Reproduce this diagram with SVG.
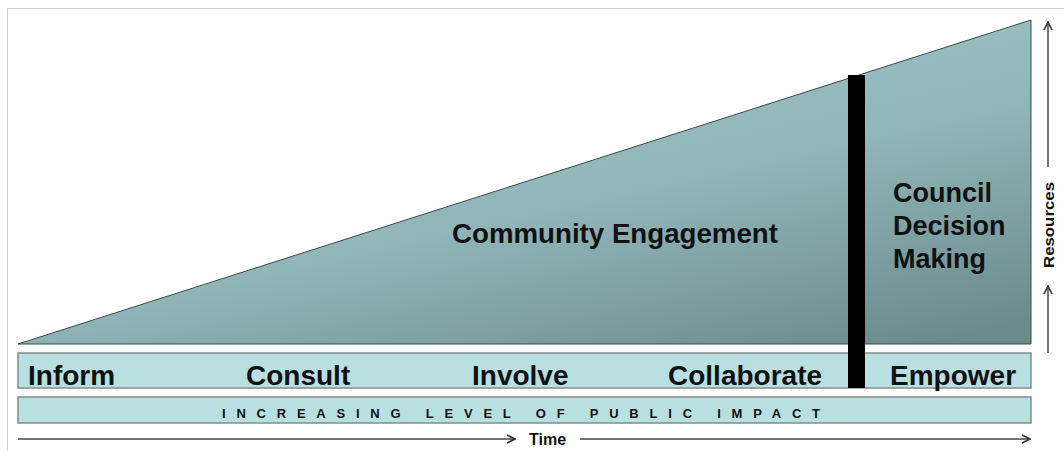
<svg xmlns="http://www.w3.org/2000/svg" width="1064" height="451" viewBox="0 0 1064 451">
<defs>
<linearGradient id="tri" x1="0.2" y1="0" x2="0.9" y2="1">
<stop offset="0" stop-color="#a6cccf"/>
<stop offset="0.55" stop-color="#90b5b8"/>
<stop offset="1" stop-color="#6b8b8c"/>
</linearGradient>
<marker id="ah" viewBox="0 0 10 10" refX="9" refY="5" markerWidth="10" markerHeight="10" markerUnits="userSpaceOnUse" orient="auto">
<path d="M1,1 L9,5 L1,9" fill="none" stroke="#333" stroke-width="1.6"/>
</marker>
</defs>
<style>
.lbl{font-family:"Liberation Sans",Arial,sans-serif;font-weight:bold;fill:#111}
.strip{fill:#b9e0e1;stroke:#7f8f8f;stroke-width:1.5}
.ax{stroke:#444;stroke-width:1.5;fill:none}
</style>
<rect x="0" y="0" width="1064" height="451" fill="#fff"/>
<path d="M7.5,451 V8.5 H1064" fill="none" stroke="#cfcfcf" stroke-width="1"/>
<g id="triangle">
<polygon points="18,344 1031,20 1031,344" fill="url(#tri)" stroke="#3a4a4a" stroke-width="1"/>
<text class="lbl" x="452" y="243" font-size="27" textLength="326" lengthAdjust="spacingAndGlyphs">Community Engagement</text>
</g>
<g id="council">
<text class="lbl" font-size="27"><tspan x="893" y="202">Council</tspan><tspan x="893" y="235">Decision</tspan><tspan x="893" y="268">Making</tspan></text>
</g>
<g id="levels">
<rect class="strip" x="18" y="353" width="1013" height="35"/>
<text class="lbl" x="28" y="385" font-size="28">Inform</text>
<text class="lbl" x="246" y="385" font-size="28">Consult</text>
<text class="lbl" x="472" y="385" font-size="28">Involve</text>
<text class="lbl" x="668" y="385" font-size="28">Collaborate</text>
<text class="lbl" x="890" y="385" font-size="28">Empower</text>
</g>
<g id="divider">
<rect x="848" y="75" width="17" height="313" fill="#000"/>
</g>
<g id="impact">
<rect class="strip" x="18" y="397" width="1013" height="26"/>
<text class="lbl" x="222" y="418" font-size="13" textLength="598" lengthAdjust="spacing">INCREASING LEVEL OF PUBLIC IMPACT</text>
</g>
<g id="connectors">
<line class="ax" x1="18" y1="439" x2="515" y2="439" marker-end="url(#ah)"/>
<line class="ax" x1="580" y1="439" x2="1030" y2="439" marker-end="url(#ah)"/>
<line class="ax" x1="1048" y1="167" x2="1048" y2="22" marker-end="url(#ah)"/>
<line class="ax" x1="1048" y1="353" x2="1048" y2="286" marker-end="url(#ah)"/>
</g>
<g id="time">
<text class="lbl" x="547.5" y="445" font-size="16" text-anchor="middle">Time</text>
</g>
<g id="resources">
<text class="lbl" transform="translate(1054,225) rotate(-90)" font-size="15" text-anchor="middle" textLength="86" lengthAdjust="spacingAndGlyphs">Resources</text>
</g>
</svg>
